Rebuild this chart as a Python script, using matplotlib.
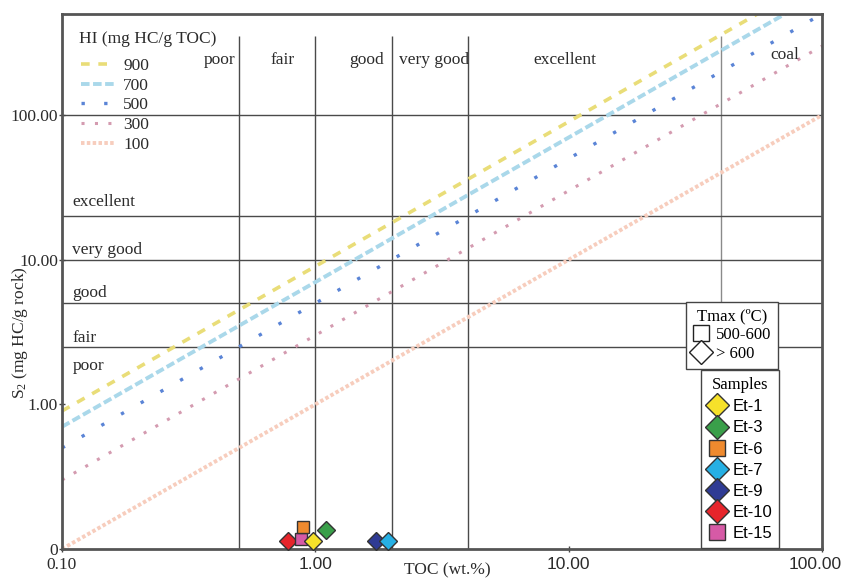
#!/usr/bin/env python3
"""Pseudo-Van Krevelen style S2 vs TOC plot with HI lines and sample points."""

import matplotlib
matplotlib.use("Agg")
import matplotlib.pyplot as plt
import matplotlib.transforms as mtransforms
from matplotlib.lines import Line2D
import numpy as np

SERIF = ["Liberation Serif", "DejaVu Serif"]
SANS = ["Liberation Sans", "DejaVu Sans"]

# HI reference lines (S2 = HI * TOC / 100)
HI_VALUES = [900, 700, 500, 300, 100]
HI_COLORS = ["#e9dd78", "#aad8ea", "#5a84d6", "#d49bb0", "#f7cdbd"]
TOC_RANGE = [0.1, 100.0]

# class boundaries
TOC_BOUNDS = [0.5, 1.0, 2.0, 4.0, 40.0]
S2_BOUNDS = [2.5, 5.0, 10.0, 20.0, 100.0]
TOC_CLASSES = ["poor", "fair", "good", "very good", "excellent", "coal"]
TOC_CLASS_X = [0.42, 0.74, 1.59, 2.94, 9.7, 71.0]
S2_CLASSES = ["excellent", "very good", "good", "fair", "poor"]
S2_CLASS_Y = [25.2, 11.7, 5.9, 2.88, 1.85]

# samples
SAMPLES = ["Et-1", "Et-3", "Et-6", "Et-7", "Et-9", "Et-10", "Et-15"]
SAMPLE_TOC = [0.98, 1.10, 0.89, 1.94, 1.74, 0.78, 0.88]
SAMPLE_S2 = [0.114, 0.135, 0.142, 0.114, 0.114, 0.114, 0.117]
SAMPLE_MARKER = ["D", "D", "s", "D", "D", "D", "s"]
SAMPLE_COLOR = ["#f6e12a", "#3a9f4a", "#ef8a2e", "#26b0e4", "#2f3b94", "#e6252b", "#d65aa6"]
DRAW_ORDER = [5, 6, 2, 0, 1, 4, 3]

X_TICKS = [0.1, 1, 10, 100]
X_LABELS = ["0.10", "1.00", "10.00", "100.00"]
Y_TICKS = [0.1, 1, 10, 100]
Y_LABELS = ["0", "1.00", "10.00", "100.00"]

plt.rcParams["font.family"] = SERIF
plt.rcParams["mathtext.default"] = "regular"
TXT = "#2b2b2b"

fig = plt.figure(figsize=(8.45, 5.79), dpi=100)
ax = fig.add_axes([62 / 845, 30 / 579, 760 / 845, 535 / 579])
ax.set_xscale("log")
ax.set_yscale("log")
ax.set_xlim(0.1, 100)
ax.set_ylim(0.1, 500)

line_styles = [
    dict(lw=2.6, ls=(0, (2.4, 2.4))),
    dict(lw=2.8, ls=(0, (2.2, 0.9))),
    dict(lw=2.4, ls=(0, (1, 5.8))),
    dict(lw=2.2, ls=(0, (1, 3.4))),
    dict(lw=2.8, ls=(0, (0.9, 0.6))),
]
toc = np.array(TOC_RANGE)
hi_handles = []
for hi, col, st in zip(HI_VALUES, HI_COLORS, line_styles):
    (ln,) = ax.plot(toc, hi * toc / 100, color=col, zorder=2, **st)
    hi_handles.append(ln)

# grid / class lines
grid_c = "#4a4a4a"
ax.vlines(TOC_BOUNDS[:-1], 0.1, 350, color=grid_c, lw=1, zorder=1)
ax.vlines(TOC_BOUNDS[-1:], 0.1, 350, color="#8a8a8a", lw=1, zorder=1)
ax.hlines(S2_BOUNDS, 0.1, 100, color=grid_c, lw=1, zorder=1)

for lab, x in zip(TOC_CLASSES, TOC_CLASS_X):
    y = 262 if lab == "coal" else 240
    ax.text(x, y, lab, ha="center", va="center", fontsize=12.5, color=TXT)
for lab, y in zip(S2_CLASSES, S2_CLASS_Y):
    ax.text(0.11, y, lab, ha="left", va="center", fontsize=12.5, color=TXT)

# samples
for i in DRAW_ORDER:
    ms = 9.5 if SAMPLE_MARKER[i] == "D" else 9
    ax.plot(SAMPLE_TOC[i], SAMPLE_S2[i], marker=SAMPLE_MARKER[i], ms=ms,
            mfc=SAMPLE_COLOR[i], mec="#333333", mew=1, ls="none", zorder=5,
            clip_on=False)

# axes styling
for sp in ax.spines.values():
    sp.set_color("#555555")
    sp.set_linewidth(2)
ax.minorticks_off()
ax.set_xticks(X_TICKS)
ax.set_xticklabels(X_LABELS)
ax.set_yticks(Y_TICKS)
ax.set_yticklabels(Y_LABELS, fontsize=12.5)
ax.tick_params(axis="both", direction="inout", length=4, width=1, color="#444444", pad=1)
ax.tick_params(axis="x", pad=4)
for i, t in enumerate(ax.get_xticklabels()):
    t.set_fontsize(12.5)
    t.set_family(SERIF if i == 0 else SANS)
    t.set_color(TXT)
for t in ax.get_yticklabels():
    t.set_color(TXT)
# nudge the last x tick label so it stays inside the canvas
last = ax.xaxis.get_major_ticks()[-1].label1
last.set_transform(last.get_transform()
                   + mtransforms.ScaledTranslation(-5 / 72, 0, fig.dpi_scale_trans))

ax.set_xlabel("TOC (wt.%)", fontsize=12.5, color=TXT, va="center")
ax.xaxis.set_label_coords(0.507, -0.04)
ax.set_ylabel("S$_2$ (mg HC/g rock)", fontsize=12.5, color=TXT, va="center")
ax.yaxis.set_label_coords(-0.055, 0.405)

# HI legend
ax.text(0.023, 0.953, "HI (mg HC/g TOC)", transform=ax.transAxes, fontsize=12.5,
        ha="left", va="center", color=TXT)
leg1 = ax.legend(hi_handles, [str(v) for v in HI_VALUES],
                 loc="upper left", bbox_to_anchor=(0.004, 0.947), frameon=False,
                 prop={"family": SERIF, "size": 12.5},
                 handlelength=2.0, handletextpad=0.45, labelspacing=0.2,
                 borderaxespad=0.5)
for t in leg1.get_texts():
    t.set_color(TXT)
ax.add_artist(leg1)

# Tmax legend
tmax_handles = [
    Line2D([], [], marker="s", ms=11, mfc="white", mec="#222222", mew=1, ls="none"),
    Line2D([], [], marker="D", ms=12, mfc="white", mec="#222222", mew=1, ls="none"),
]
leg2 = ax.legend(tmax_handles, ["500-600", "> 600"], title="Tmax (ºC)",
                 loc="upper right", bbox_to_anchor=(0.942, 0.4625), borderaxespad=0,
                 prop={"family": SERIF, "size": 12}, title_fontsize=12,
                 fancybox=False, edgecolor="#444444", framealpha=1,
                 handlelength=1.0, handletextpad=0.4, labelspacing=0.18,
                 borderpad=0.4, alignment="center")
leg2.get_frame().set_linewidth(1)
ax.add_artist(leg2)

# Samples legend
s_handles = [
    Line2D([], [], marker=m, ms=(12.5 if m == "D" else 11), mfc=c, mec="#333333",
           mew=1, ls="none")
    for m, c in zip(SAMPLE_MARKER, SAMPLE_COLOR)
]
leg3 = ax.legend(s_handles, SAMPLES, title="Samples",
                 loc="lower right", bbox_to_anchor=(0.943, 0.002), borderaxespad=0,
                 prop={"family": SANS, "size": 12}, title_fontsize=12,
                 fancybox=False, edgecolor="#444444", framealpha=1,
                 handlelength=1.1, handletextpad=0.35, labelspacing=0.37,
                 borderpad=0.4)
leg3.get_title().set_family(SERIF)
leg3.get_frame().set_linewidth(1)

fig.savefig("out.png", dpi=100, facecolor="white")
